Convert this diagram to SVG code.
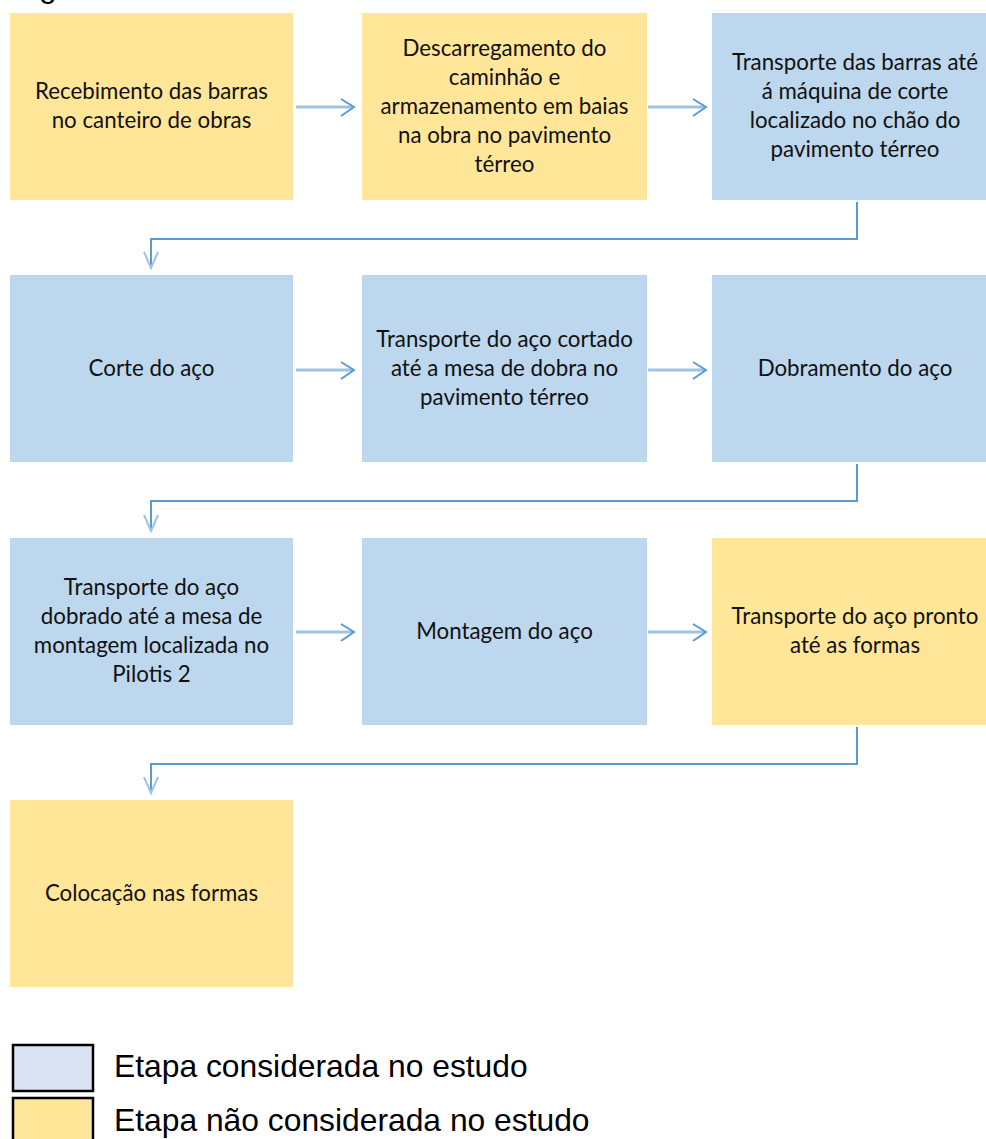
<svg xmlns="http://www.w3.org/2000/svg" width="986" height="1139" viewBox="0 0 986 1139">
<defs>
<style>
.y{fill:#FFE699}
.b{fill:#BDD7EE}
.t{font-family:Lato,"Liberation Sans",sans-serif;font-size:22.3px;fill:#111;text-anchor:middle}
.ha{stroke:#9DC3E6;stroke-width:3;fill:none}
.hh{stroke:#5B9BD5;stroke-width:2;fill:none}
.el{stroke:#5B9BD5;stroke-width:2;fill:none}
.vh{stroke:#9DC3E6;stroke-width:2;fill:none}
.lg{font-family:"Liberation Sans",Arial,sans-serif;font-size:31.8px;fill:#000}
</style>
</defs>
<rect width="986" height="1139" fill="#fff"/>
<text class="lg" x="39" y="-3">g</text>

<g id="n1"><rect class="y" x="10" y="13" width="283" height="187"/>
<text class="t" x="151.5" y="99">Recebimento das barras</text>
<text class="t" x="151.5" y="128">no canteiro de obras</text></g>

<g id="n2"><rect class="y" x="362" y="13" width="285" height="187"/>
<text class="t" x="504.5" y="56">Descarregamento do</text>
<text class="t" x="504.5" y="85">caminhão e</text>
<text class="t" x="504.5" y="114">armazenamento em baias</text>
<text class="t" x="504.5" y="143">na obra no pavimento</text>
<text class="t" x="504.5" y="172">térreo</text></g>

<g id="n3"><rect class="b" x="712" y="13" width="286" height="187"/>
<text class="t" x="855" y="70">Transporte das barras até</text>
<text class="t" x="855" y="99">á máquina de corte</text>
<text class="t" x="855" y="128">localizado no chão do</text>
<text class="t" x="855" y="157">pavimento térreo</text></g>

<g id="n4"><rect class="b" x="10" y="275" width="283" height="187"/>
<text class="t" x="151.5" y="376">Corte do aço</text></g>

<g id="n5"><rect class="b" x="362" y="275" width="285" height="187"/>
<text class="t" x="504.5" y="347">Transporte do aço cortado</text>
<text class="t" x="504.5" y="376">até a mesa de dobra no</text>
<text class="t" x="504.5" y="405">pavimento térreo</text></g>

<g id="n6"><rect class="b" x="712" y="275" width="286" height="187"/>
<text class="t" x="855" y="376">Dobramento do aço</text></g>

<g id="n7"><rect class="b" x="10" y="538" width="283" height="187"/>
<text class="t" x="151.5" y="595">Transporte do aço</text>
<text class="t" x="151.5" y="624">dobrado até a mesa de</text>
<text class="t" x="151.5" y="653">montagem localizada no</text>
<text class="t" x="151.5" y="682">Pilotis 2</text></g>

<g id="n8"><rect class="b" x="362" y="538" width="285" height="187"/>
<text class="t" x="504.5" y="639">Montagem do aço</text></g>

<g id="n9"><rect class="y" x="712" y="538" width="286" height="187"/>
<text class="t" x="855" y="624">Transporte do aço pronto</text>
<text class="t" x="855" y="653">até as formas</text></g>

<g id="n10"><rect class="y" x="10" y="800" width="283" height="187"/>
<text class="t" x="151.5" y="901">Colocação nas formas</text></g>

<g id="connectors">
<path class="ha" d="M296 107H353"/><path class="hh" d="M341 99L354 107L341 116"/>
<path class="ha" d="M648 107H705"/><path class="hh" d="M693 99L706 107L693 116"/>
<path class="ha" d="M296 370H353"/><path class="hh" d="M341 362L354 370L341 379"/>
<path class="ha" d="M648 370H705"/><path class="hh" d="M693 362L706 370L693 379"/>
<path class="ha" d="M296 632H353"/><path class="hh" d="M341 624L354 632L341 641"/>
<path class="ha" d="M648 632H705"/><path class="hh" d="M693 624L706 632L693 641"/>
<path class="el" d="M857 202V239H151V268"/><path class="vh" d="M144 252L151 268L158 252"/>
<path class="el" d="M857 464V501H151V531"/><path class="vh" d="M144 515L151 531L158 515"/>
<path class="el" d="M857 727V764H151V793"/><path class="vh" d="M144 777L151 793L158 777"/>
</g>

<g id="legend">
<rect x="13" y="1045" width="80" height="46" fill="#DAE3F3" stroke="#000" stroke-width="2.5"/>
<rect x="13" y="1098" width="80" height="46" fill="#FFE699" stroke="#000" stroke-width="2.5"/>
<text class="lg" x="114" y="1077">Etapa considerada no estudo</text>
<text class="lg" x="114" y="1131">Etapa não considerada no estudo</text>
</g>
</svg>
